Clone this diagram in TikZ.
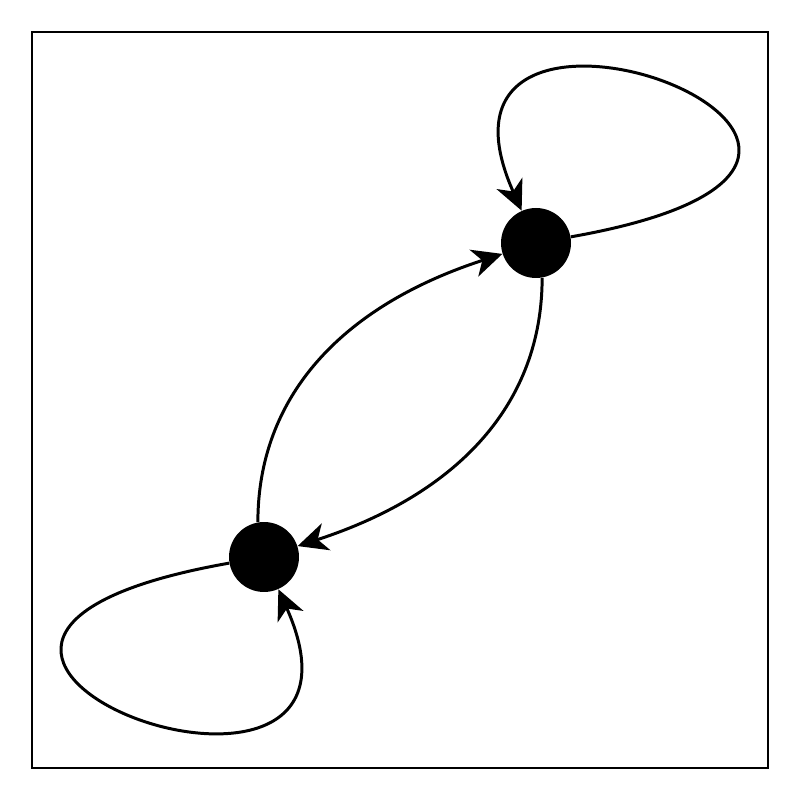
\documentclass[tikz,border=0pt]{standalone}
\usepackage{tikz}
\usetikzlibrary{arrows.meta}
\tikzstyle{vertex} = [fill=black,circle,minimum size=1.4cm,inner sep=0]
\tikzstyle{edge} = [line width=1.7pt,->]

\begin{document}
\begin{tikzpicture}[x=0.02cm, y=0.02cm, >={Stealth[length=17pt,width=16pt,inset=5pt]}]
\useasboundingbox (0,0) rectangle (800,800);
\draw[line width=1.1pt] (32,32) rectangle (768,768);

\node[vertex] (t) at (536,557) {};
\node[vertex] (b) at (264,243) {};

% between the two vertices
\draw[edge] (t.-80) .. controls +(-90:125) and +(18:170) .. (b.18);
\draw[edge] (b.100) .. controls +(90:125) and +(-162:170) .. (t.-162);

% self loops
\draw[edge] (t.10) .. controls +(10:465) and +(114:315) .. (t.114);
\draw[edge] (b.190) .. controls +(190:465) and +(-66:315) .. (b.-66);
\end{tikzpicture}
\end{document}
